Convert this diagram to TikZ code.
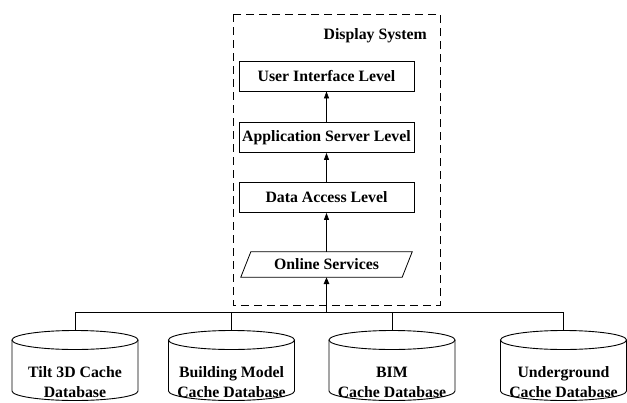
\documentclass[tikz,border=0pt]{standalone}
\usepackage{fontspec}
\setmainfont{Liberation Serif}
\usetikzlibrary{arrows.meta}
\tikzset{
  lvl/.style={draw, line width=0.8pt, minimum width=175, minimum height=30, inner sep=0pt},
  plain/.style={inner sep=0pt},
  up/.style={-{Triangle[length=7pt,width=5pt]}, line width=0.7pt},
  upthick/.style={-{Triangle[length=7pt,width=5.5pt]}, line width=1.5pt},
  bus/.style={line width=0.8pt},
  frame/.style={line width=0.9pt, dash pattern=on 8pt off 5pt},
  cyl/.style={line width=0.9pt},
  dbtext/.style={align=center, inner sep=0pt},
}
% cylinder outline centred at x=#1
\newcommand\dbcyl[1]{%
  \draw[cyl] (#1,340) ellipse [x radius=63, y radius=9.5];
  \draw[cyl] (#1-63,340) -- (#1-63,391) arc[start angle=180, end angle=0, x radius=63, y radius=9.5] -- (#1+63,340);
}
\begin{document}
\begin{tikzpicture}[x=1pt, y=-1pt, font=\fontsize{15.8}{20}\selectfont\bfseries]
\useasboundingbox (0,0) rectangle (627,402);

% display system frame
\draw[frame] (233,14) rectangle (440,305);
\node[plain, anchor=base east] (title) at (427,39.5) {Display System};

% levels
\node[lvl] (ui)   at (326.5,76)    {User Interface Level};
\node[lvl] (app)  at (326.5,137.5) {Application Server Level};
\node[lvl] (data) at (326.5,197.5) {Data Access Level};
\node[plain, minimum width=161, minimum height=25] (online) at (326.5,264.5) {Online Services};
\draw[line width=0.8pt] ([xshift=-5]online.south west) -- ([xshift=5]online.north west)
  -- ([xshift=5]online.north east) -- ([xshift=-5]online.south east) -- cycle;

\draw[up] (app) -- (ui);
\draw[up] (data) -- (app);
\draw[up] (online.north) -- (data);

% databases
\dbcyl{75}
\dbcyl{231.5}
\dbcyl{392}
\dbcyl{563.5}
\coordinate (t1) at (75,330.5);
\coordinate (t2) at (231.5,330.5);
\coordinate (t3) at (392,330.5);
\coordinate (t4) at (563.5,330.5);
\node[dbtext] (db1) at (75,382)    {Tilt 3D Cache\\Database};
\node[dbtext] (db2) at (231.5,382) {Building Model\\Cache Database};
\node[dbtext] (db3) at (392,382)   {BIM\\Cache Database};
\node[dbtext] (db4) at (563.5,382) {Underground\\Cache Database};

% bus
\coordinate (b1) at (75,312);
\coordinate (b2) at (231.5,312);
\coordinate (b3) at (392,312);
\coordinate (b4) at (563.5,312);
\coordinate (bm) at (326.5,312);
\draw[bus] (b1) -- (b4);
\draw[bus] (b1) -- (t1);
\draw[bus] (b2) -- (t2);
\draw[bus] (b3) -- (t3);
\draw[bus] (b4) -- (t4);
\draw[upthick] (bm) -- (online.south);
\end{tikzpicture}
\end{document}
